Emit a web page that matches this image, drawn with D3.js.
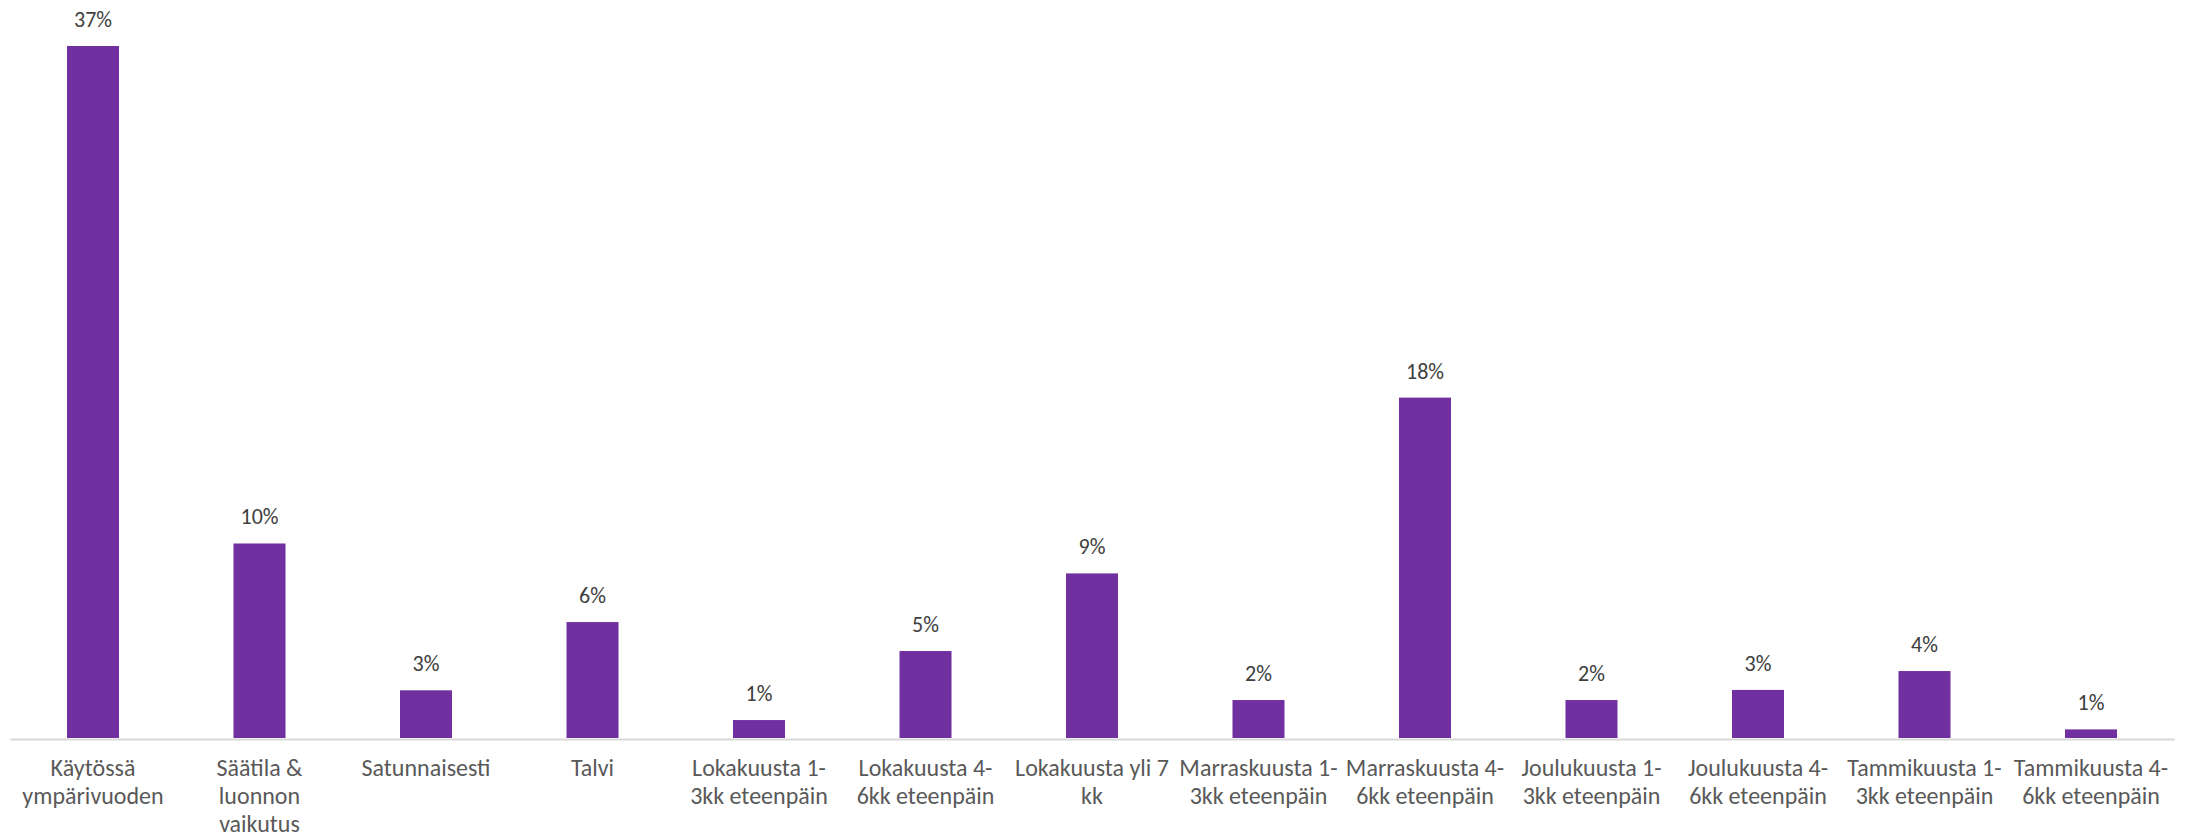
<!DOCTYPE html>
<html>
<head>
<meta charset="utf-8">
<script src="https://cdn.jsdelivr.net/npm/d3@7/dist/d3.min.js"></script>
<style>
  body { margin: 0; background: #fff; }
  svg text { font-family: Carlito, Lato, "Open Sans", sans-serif; }
</style>
</head>
<body>
<svg id="chart"></svg>
<script>
// categories (line breaks as in the original axis labels)
const categories = [
  "Käytössä\nympärivuoden",
  "Säätila &\nluonnon\nvaikutus",
  "Satunnaisesti",
  "Talvi",
  "Lokakuusta 1-\n3kk eteenpäin",
  "Lokakuusta 4-\n6kk eteenpäin",
  "Lokakuusta yli 7\nkk",
  "Marraskuusta 1-\n3kk eteenpäin",
  "Marraskuusta 4-\n6kk eteenpäin",
  "Joulukuusta 1-\n3kk eteenpäin",
  "Joulukuusta 4-\n6kk eteenpäin",
  "Tammikuusta 1-\n3kk eteenpäin",
  "Tammikuusta 4-\n6kk eteenpäin"
];

// share of answers, %
const values = [37, 10.4, 2.55, 6.2, 0.96, 4.65, 8.8, 2.03, 18.2, 2.03, 2.57, 3.58, 0.46];

// data labels as printed on the chart
const valueLabels = ["37%", "10%", "3%", "6%", "1%", "5%", "9%", "2%", "18%", "2%", "3%", "4%", "1%"];

const width = 2193, height = 837;
const svg = d3.select("#chart")
  .attr("width", width)
  .attr("height", height);

const barPad = 0.6877;
const x = d3.scaleBand()
  .domain(categories)
  .range([9.75, 2174.25])
  .paddingInner(barPad)
  .paddingOuter(barPad / 2);

const baseY = 738;
const y = d3.scaleLinear()
  .domain([0, 37])
  .range([baseY, 46]);

const data = categories.map((c, i) => ({ cat: c, value: values[i], label: valueLabels[i] }));

// bars
svg.selectAll(".bar")
  .data(data)
  .enter().append("rect")
  .attr("class", "bar")
  .attr("x", d => x(d.cat))
  .attr("y", d => y(d.value))
  .attr("width", x.bandwidth())
  .attr("height", d => baseY - y(d.value))
  .attr("fill", "#7030a0");

// value labels
svg.selectAll(".val")
  .data(data)
  .enter().append("text")
  .attr("class", "val")
  .attr("x", d => x(d.cat) + x.bandwidth() / 2)
  .attr("y", d => y(d.value) - 19)
  .attr("text-anchor", "middle")
  .attr("font-size", 22)
  .attr("fill", "#404040")
  .text(d => d.label);

// x axis
const xAxis = svg.append("g")
  .attr("transform", `translate(0,${baseY + 1})`)
  .call(d3.axisBottom(x).tickSize(0).tickFormat(""));
xAxis.select(".domain")
  .attr("stroke", "#d9d9d9")
  .attr("stroke-width", 2);

// category labels, one tspan per line
const ticks = svg.selectAll(".cat")
  .data(categories)
  .enter().append("text")
  .attr("class", "cat")
  .attr("text-anchor", "middle")
  .attr("font-size", 24)
  .attr("fill", "#595959");

ticks.selectAll("tspan")
  .data(d => d.split("\n").map(line => ({ line, cat: d })))
  .enter().append("tspan")
  .attr("x", d => x(d.cat) + x.bandwidth() / 2)
  .attr("y", (d, i) => 776 + i * 28)
  .text(d => d.line);
</script>
</body>
</html>
